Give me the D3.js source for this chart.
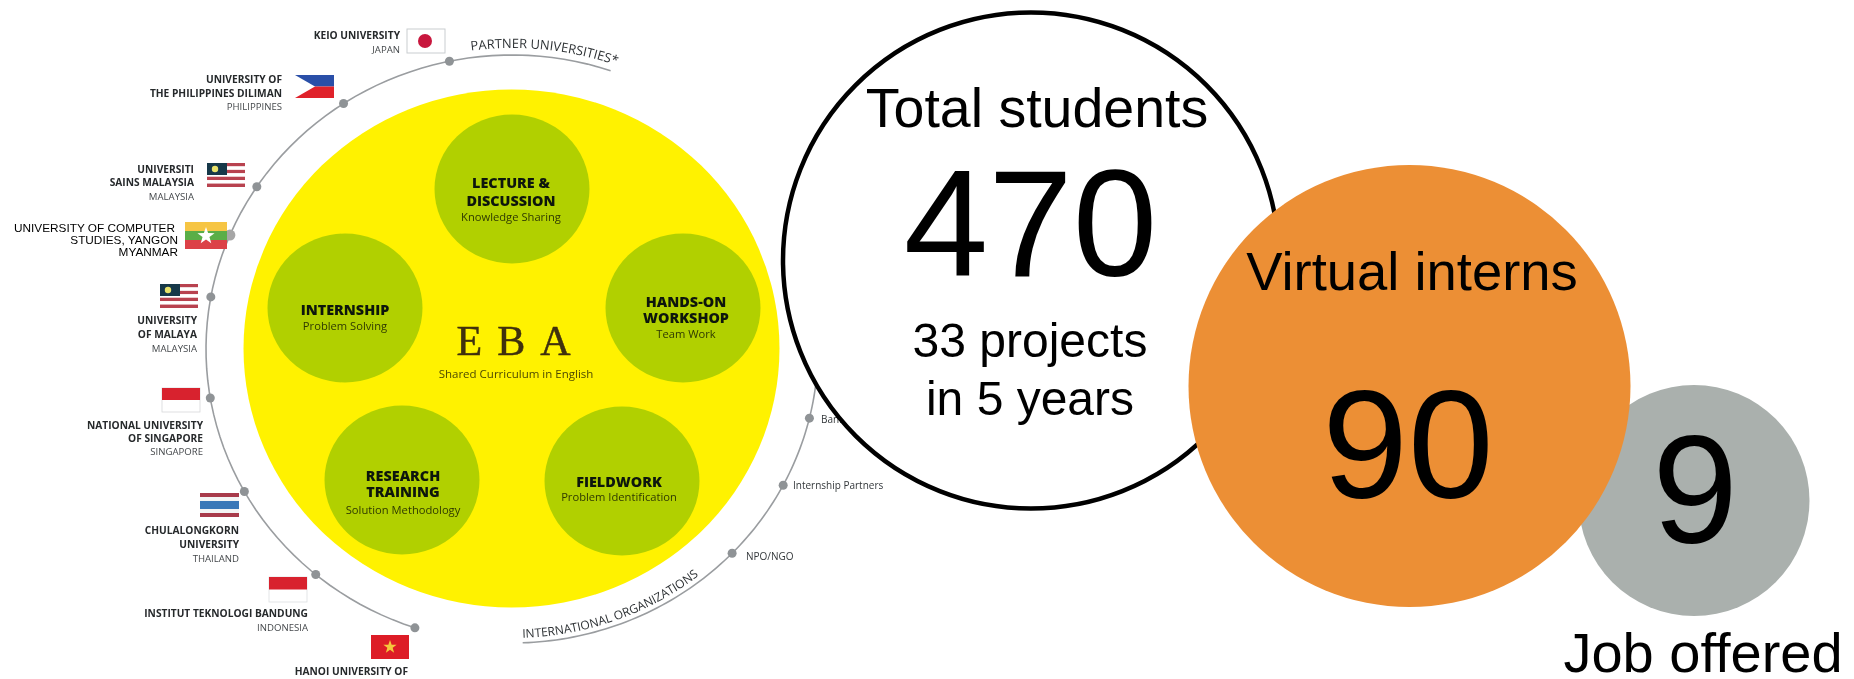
<!DOCTYPE html>
<html>
<head>
<meta charset="utf-8">
<title>EBA programme and virtual internship funnel</title>
<script src="https://cdn.jsdelivr.net/npm/d3@7/dist/d3.min.js"></script>
<style>
  html, body { margin: 0; padding: 0; background: #fff; }
  svg { display: block; }
  text { font-family: "Open Sans", sans-serif; }
  .big text, text.big { font-family: "Liberation Sans", Arial, sans-serif; fill: #000; }
</style>
</head>
<body>
<svg id="chart" width="1854" height="679"></svg>
<script>
// Funnel figures
const funnelStages = ["Total students", "Virtual interns", "Job offered"];
const funnelCounts = [470, 90, 9];
const projectNotes = ["33 projects", "in 5 years"];

// Curriculum pillars around the EBA core
const pillarTitles = [["LECTURE &", "DISCUSSION"], ["HANDS-ON", "WORKSHOP"], ["FIELDWORK"], ["RESEARCH", "TRAINING"], ["INTERNSHIP"]];
const pillarSkills = ["Knowledge Sharing", "Team Work", "Problem Identification", "Solution Methodology", "Problem Solving"];

// Partner universities, running counter-clockwise from the top of the ring
const partnerNames = [
  ["KEIO UNIVERSITY"],
  ["UNIVERSITY OF", "THE PHILIPPINES DILIMAN"],
  ["UNIVERSITI", "SAINS MALAYSIA"],
  ["UNIVERSITY OF COMPUTER", "STUDIES, YANGON"],
  ["UNIVERSITY", "OF MALAYA"],
  ["NATIONAL UNIVERSITY", "OF SINGAPORE"],
  ["CHULALONGKORN", "UNIVERSITY"],
  ["INSTITUT TEKNOLOGI BANDUNG"],
  ["HANOI UNIVERSITY OF"]
];
const partnerCountries = ["JAPAN", "PHILIPPINES", "MALAYSIA", "MYANMAR", "MALAYSIA", "SINGAPORE", "THAILAND", "INDONESIA", ""];
const organizationNames = ["Bank Partners", "Internship Partners", "NPO/NGO"];

const svg = d3.select("#chart");
const defs = svg.append("defs");
defs.append("filter").attr("id", "soft")
  .attr("x", "-5%").attr("y", "-5%").attr("width", "110%").attr("height", "110%")
  .append("feGaussianBlur").attr("stdDeviation", 0.7);

// Ring geometry: an ellipse addressed by clockwise degrees from twelve o'clock.
const ring = { cx: 512, cy: 349, rx: 306, ry: 294 };
const rad = d => d * Math.PI / 180;
const ringX = d3.scaleLinear().domain([-1, 1]).range([ring.cx - ring.rx, ring.cx + ring.rx]);
const ringY = d3.scaleLinear().domain([-1, 1]).range([ring.cy + ring.ry, ring.cy - ring.ry]);
const ringPoint = deg => [ringX(Math.sin(rad(deg))), ringY(Math.cos(rad(deg)))];
const ringLine = d3.line();
const ringPath = (from, to, grow = 0) => {
  const n = 80;
  return ringLine(d3.range(n + 1).map(i => {
    const deg = from + (to - from) * i / n;
    const [x, y] = ringPoint(deg);
    const dx = x - ring.cx, dy = y - ring.cy;
    const k = 1 + grow / Math.hypot(dx, dy);
    return [ring.cx + dx * k, ring.cy + dy * k];
  }));
};

const inset = svg.append("g").attr("filter", "url(#soft)");

// Yellow core
inset.append("ellipse").attr("cx", 511.5).attr("cy", 348.5).attr("rx", 268).attr("ry", 259).attr("fill", "#fff200");

// Pillars
const pillarLayout = [
  { cx: 512, cy: 189, tx: 511, y: [188, 206], sy: 221 },
  { cx: 683, cy: 308, tx: 686, y: [307, 323], sy: 338 },
  { cx: 622, cy: 481, tx: 619, y: [487], sy: 501 },
  { cx: 402, cy: 480, tx: 403, y: [481, 497], sy: 514 },
  { cx: 345, cy: 308, tx: 345, y: [315], sy: 330 }
];
pillarTitles.forEach((title, i) => {
  const p = pillarLayout[i];
  const g = inset.append("g");
  g.append("ellipse").attr("cx", p.cx).attr("cy", p.cy).attr("rx", 77.5).attr("ry", 74.5).attr("fill", "#b1d000");
  g.selectAll("text.t").data(title).join("text").attr("class", "t")
    .attr("x", p.tx).attr("y", (d, j) => p.y[j])
    .attr("text-anchor", "middle").attr("font-size", 14.4).attr("font-weight", 800).attr("fill", "#10170a").text(d => d);
  g.append("text").attr("x", p.tx).attr("y", p.sy)
    .attr("text-anchor", "middle").attr("font-size", 11.2).attr("fill", "#2f3a05").text(pillarSkills[i]);
});

// Core title
inset.append("text").attr("x", 521).attr("y", 355).attr("text-anchor", "middle")
  .style("font-family", "'Liberation Serif', serif").attr("font-size", 42).attr("letter-spacing", 15)
  .attr("fill", "#3f300c").attr("stroke", "#3f300c").attr("stroke-width", 0.5).text("EBA");
inset.append("text").attr("x", 516).attr("y", 378).attr("text-anchor", "middle")
  .attr("font-size", 11.5).attr("fill", "#4e4a00").text("Shared Curriculum in English");

// Ring segments
const ringStroke = "#9a9da0";
inset.append("path").attr("d", ringPath(18.8, -161.5)).attr("fill", "none").attr("stroke", ringStroke).attr("stroke-width", 1.6);
inset.append("path").attr("d", ringPath(178, 94)).attr("fill", "none").attr("stroke", ringStroke).attr("stroke-width", 1.6);

// Curved section headings follow the ring
defs.append("path").attr("id", "partnerArc").attr("d", ringPath(-7.5, 26, 7));
defs.append("path").attr("id", "orgArc").attr("d", ringPath(178, 140, -5));
const curved = (id, label, size) => inset.append("text").attr("font-size", size).attr("fill", "#2e3235")
  .append("textPath").attr("href", "#" + id).attr("startOffset", 0).text(label);
curved("partnerArc", "PARTNER UNIVERSITIES*", 12.9);
curved("orgArc", "INTERNATIONAL ORGANIZATIONS", 12);

// Partner nodes
const partnerAngles = [-11.8, -33.4, -56.5, -67.2, -79.8, -99.6, -119, -140.1, -161.5];
const labelLayout = [
  { x: 400, y: [39], cy: 53 },
  { x: 282, y: [83, 97], cy: 110 },
  { x: 194, y: [173, 186], cy: 200 },
  null,
  { x: 197, y: [324, 338], cy: 352 },
  { x: 203, y: [429, 442], cy: 455 },
  { x: 239, y: [534, 548], cy: 562 },
  { x: 308, y: [617], cy: 631 },
  { x: 408, y: [675], cy: null }
];
partnerNames.forEach((lines, i) => {
  const l = labelLayout[i];
  const [dx, dy] = ringPoint(partnerAngles[i]);
  if (!l) return;
  inset.append("circle").attr("cx", dx).attr("cy", dy).attr("r", 4.5).attr("fill", "#8f9396");
  lines.forEach((t, j) => inset.append("text").attr("x", l.x).attr("y", l.y[j]).attr("text-anchor", "end")
    .attr("font-size", 10.2).attr("font-weight", 700).attr("fill", "#26292c").text(t));
  if (l.cy) inset.append("text").attr("x", l.x).attr("y", l.cy).attr("text-anchor", "end")
    .attr("font-size", 9.6).attr("fill", "#44484b").text(partnerCountries[i]);
});

// Flags
const flagBox = (x, y, w, h) => inset.append("g").attr("transform", `translate(${x},${y})`).datum({ w, h });
const stripes = (g, colors) => {
  const { w, h } = g.datum();
  const band = d3.scaleBand().domain(d3.range(colors.length)).range([0, h]);
  g.selectAll("rect.s").data(colors).join("rect").attr("class", "s")
    .attr("x", 0).attr("y", (d, i) => band(i)).attr("width", w).attr("height", band.bandwidth()).attr("fill", d => d);
};
const star = (g, x, y, r, fill) => g.append("path").attr("transform", `translate(${x},${y})`).attr("fill", fill)
  .attr("d", d3.lineRadial().radius((d, i) => i % 2 ? r * 0.4 : r).angle((d, i) => i * Math.PI / 5).curve(d3.curveLinearClosed)(d3.range(10)));

const japan = flagBox(407, 29, 38, 24);
japan.append("rect").attr("width", 38).attr("height", 24).attr("fill", "#fff").attr("stroke", "#c9cdd0").attr("stroke-width", 1);
japan.append("circle").attr("cx", 18).attr("cy", 12).attr("r", 7).attr("fill", "#c8173e");

const philippines = flagBox(295, 75, 39, 23);
stripes(philippines, ["#2a50a8", "#e0202a"]);
philippines.append("path").attr("d", "M0,0L20,11.5L0,23Z").attr("fill", "#fff");

[[207, 163], [160, 284]].forEach(([x, y]) => {
  const my = flagBox(x, y, 38, 24);
  stripes(my, ["#b8434f", "#fff", "#b8434f", "#fff", "#b8434f", "#fff", "#b8434f"]);
  my.append("rect").attr("width", 20).attr("height", 12).attr("fill", "#16384a");
  my.append("circle").attr("cx", 8).attr("cy", 6).attr("r", 3.2).attr("fill", "#e8e26a");
});

const singapore = flagBox(162, 388, 38, 24);
singapore.append("rect").attr("width", 38).attr("height", 24).attr("fill", "#fff").attr("stroke", "#d6d8da").attr("stroke-width", 0.8);
singapore.append("rect").attr("width", 38).attr("height", 12).attr("fill", "#d8202e");

const thailand = flagBox(200, 493, 39, 24);
thailand.selectAll("rect").data([[0, 4, "#a83a4c"], [4, 4, "#f4f4f4"], [8, 8, "#3a78b8"], [16, 4, "#f4f4f4"], [20, 4, "#a83a4c"]]).join("rect")
  .attr("y", d => d[0]).attr("width", 39).attr("height", d => d[1]).attr("fill", d => d[2]);

const indonesia = flagBox(269, 577, 38, 25);
indonesia.append("rect").attr("width", 38).attr("height", 25).attr("fill", "#fff").attr("stroke", "#dcdee0").attr("stroke-width", 0.8);
indonesia.append("rect").attr("width", 38).attr("height", 12.5).attr("fill", "#d8202e");

const vietnam = flagBox(371, 635, 38, 24);
vietnam.append("rect").attr("width", 38).attr("height", 24).attr("fill", "#dd1e26");
star(vietnam, 19, 12, 7, "#f5c63c");

// Organisation nodes on the right side of the ring
const orgAngles = [103.6, 117.6, 134];
const orgLabelAt = [[821, 423], [793, 489], [746, 560]];
organizationNames.forEach((name, i) => {
  const [x, y] = ringPoint(orgAngles[i]);
  inset.append("circle").attr("cx", x).attr("cy", y).attr("r", 4.5).attr("fill", "#8f9396");
  inset.append("text").attr("x", orgLabelAt[i][0]).attr("y", orgLabelAt[i][1]).attr("font-size", 10).attr("fill", "#33373a").text(name);
});

// The Myanmar entry sits sharp on top of the softened diagram
{
  const i = 3;
  const [x, y] = ringPoint(partnerAngles[i]);
  const sharp = svg.append("g");
  sharp.append("circle").attr("cx", x).attr("cy", y).attr("r", 5.5).attr("fill", "#a6a6a6");
  const flag = sharp.append("g").attr("transform", "translate(185,222)").datum({ w: 42, h: 27 });
  stripes(flag, ["#f6c544", "#5aae47", "#dc4147"]);
  star(flag, 21, 14, 9, "#fff");
  const lines = [...partnerNames[i], partnerCountries[i]];
  const rights = [175, 178, 178];
  sharp.selectAll("text").data(lines).join("text").attr("class", "big")
    .attr("x", (d, j) => rights[j]).attr("y", (d, j) => 232 + j * 12)
    .attr("text-anchor", "end").attr("font-size", 11.8).attr("fill", "#000").text(d => d);
}

// Funnel bubbles: radius comes from the count through a log scale
const radius = d3.scaleLog().domain([9, 90, 470]).range([115.5, 221, 248]);
const bubbles = [
  { count: funnelCounts[0], cx: 1031, cy: 260.5, fill: "#fff", stroke: "#000", sw: 4.5 },
  { count: funnelCounts[2], cx: 1694, cy: 500.5, fill: "#aab0ad", stroke: "none", sw: 0 },
  { count: funnelCounts[1], cx: 1409.5, cy: 386, fill: "#ec8f35", stroke: "none", sw: 0 }
];
svg.append("g").selectAll("circle").data(bubbles).join("circle")
  .attr("cx", d => d.cx).attr("cy", d => d.cy).attr("r", d => radius(d.count))
  .attr("fill", d => d.fill).attr("stroke", d => d.stroke).attr("stroke-width", d => d.sw);

// Bubble captions
const big = svg.append("g").attr("class", "big").attr("text-anchor", "middle");
const caption = (x, y, size, t) => big.append("text").attr("x", x).attr("y", y).attr("font-size", size).text(t);
caption(1037, 127, 55.5, funnelStages[0]);
caption(1030.5, 276, 152, funnelCounts[0]);
caption(1030, 357, 48, projectNotes[0]);
caption(1030, 415, 48, projectNotes[1]);
caption(1412, 290, 54.4, funnelStages[1]);
caption(1408, 498, 154, funnelCounts[1]);
caption(1695, 543, 154, funnelCounts[2]);
caption(1703, 672, 56, funnelStages[2]);
</script>
</body>
</html>
